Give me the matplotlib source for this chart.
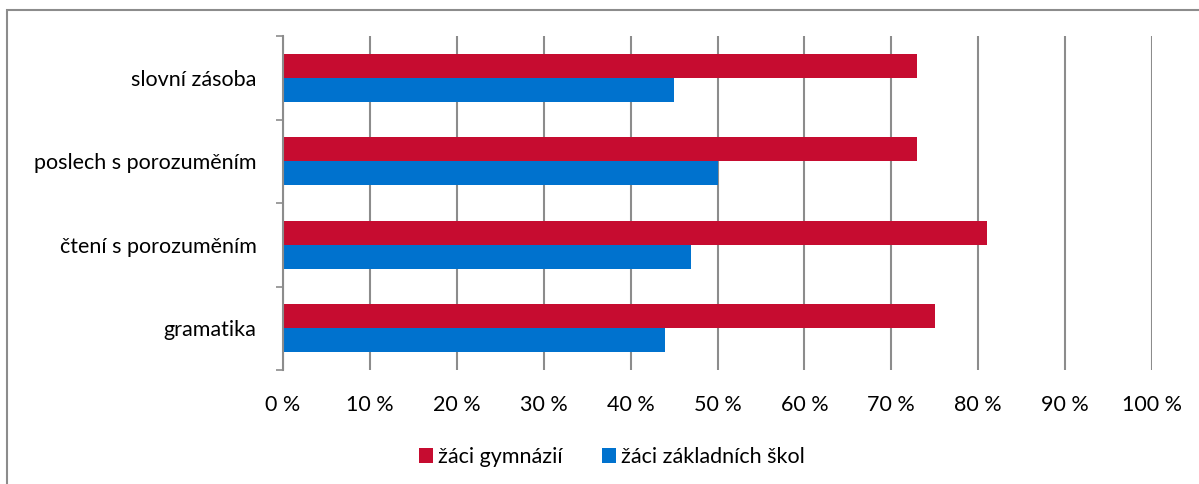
# graf: výsledky žáků podle oblastí
import numpy as np
import matplotlib.pyplot as plt
from matplotlib.patches import Rectangle

kategorie = ["slovní zásoba", "poslech s porozuměním", "čtení s porozuměním", "gramatika"]
gymnazia  = [73, 73, 81, 75]
zakladni  = [45, 50, 47, 44]
nazvy     = ["žáci gymnázií", "žáci základních škol"]
ticky     = np.arange(0, 101, 10)

cervena = "#C60C30"
modra   = "#0072CE"
seda    = "#8C8C8C"
fs      = 15.5

plt.rcParams['font.family'] = ['Lato', 'DejaVu Sans']

fig = plt.figure(figsize=(11.99, 4.84), dpi=100)
ax = fig.add_axes([283/1199, 1-370/484, (1152-283)/1199, (370-36)/484])

y = np.arange(len(kategorie))
h = 0.29
ax.barh(y - h/2, gymnazia, h, color=cervena, label=nazvy[0], zorder=3)
ax.barh(y + h/2, zakladni, h, color=modra, label=nazvy[1], zorder=3)

ax.set_xlim(0, 100)
ax.set_ylim(len(kategorie) - 0.5, -0.5)
ax.set_xticks(ticky)
ax.set_xticklabels(["%i %%" % t for t in ticky], fontsize=fs)
ax.set_yticks(y)
ax.set_yticklabels(kategorie, fontsize=fs)
ax.set_yticks(np.arange(-0.5, len(kategorie)), minor=True)

ax.tick_params(axis='x', length=0, pad=18)
ax.tick_params(axis='y', which='major', length=0, pad=19)
ax.tick_params(axis='y', which='minor', length=5, color=seda, width=1.2, direction='out')

ax.grid(axis='x', color=seda, linewidth=1.5, zorder=0)
for s in ['top', 'right', 'bottom']:
    ax.spines[s].set_visible(False)
ax.spines['left'].set_color(seda)
ax.spines['left'].set_linewidth(1.5)
ax.spines['left'].set_zorder(4)

leg = fig.legend(loc='center', bbox_to_anchor=(612/1199, 1-457/484), ncol=2, frameon=False,
                 fontsize=fs, handlelength=0.65, handleheight=0.65, handletextpad=0.25,
                 columnspacing=1.8)

# rámeček grafu
fig.patches.append(Rectangle((7/1199, -0.1), 1.2, 1-10/484+0.1, transform=fig.transFigure,
                             fill=False, edgecolor=seda, linewidth=1.5))

fig.savefig("out.png", dpi=100)
